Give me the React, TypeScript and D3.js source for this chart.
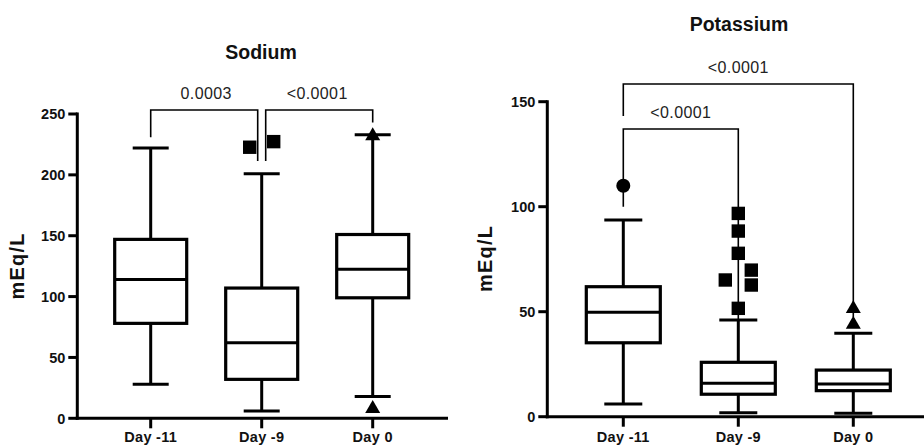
import React, { useRef, useEffect } from 'react';
import * as d3 from 'd3';

// Box plots of electrolytes (Tukey whiskers), one panel per analyte
const categories = ['Day -11', 'Day -9', 'Day 0'];
const markerShapes = ['circle', 'square', 'triangle'];

// [min, q1, median, q3, max]
const sodiumStats = [
  [28, 78, 114, 147, 222],
  [6, 32, 62, 107, 201],
  [18, 99, 122.5, 151, 233],
];
// slot: side-by-side jitter index for outliers with close values
const sodiumOutliers = [
  [],
  [{ value: 222.7, slot: -1 }, { value: 227.3, slot: 1 }],
  [{ value: 232, slot: 0 }, { value: 8, slot: 0 }],
];
const sodiumTicks = [0, 50, 100, 150, 200, 250];
const sodiumBrackets = [
  { from: 0, to: 1, top: 253.3, fromEnd: 231, toEnd: 211.4, label: '0.0003' },
  { from: 1, to: 2, top: 253.3, fromEnd: 211.4, toEnd: 243, label: '<0.0001' },
];

const potassiumStats = [
  [6, 35.2, 49.7, 61.9, 93.7],
  [1.9, 10.7, 15.9, 25.9, 46],
  [1.6, 12.4, 15.6, 22.2, 39.7],
];
const potassiumOutliers = [
  [{ value: 110, slot: 0 }],
  [
    { value: 96.8, slot: 0 },
    { value: 88.4, slot: 0 },
    { value: 77.8, slot: 0 },
    { value: 65.1, slot: -1 },
    { value: 69.8, slot: 1 },
    { value: 62.7, slot: 1 },
    { value: 51.6, slot: 0 },
  ],
  [{ value: 51.5, slot: 0 }, { value: 44, slot: 0 }],
];
const potassiumTicks = [0, 50, 100, 150];
const potassiumBrackets = [
  { from: 0, to: 1, top: 137, fromEnd: 100, toEnd: 46, label: '<0.0001' },
  { from: 0, to: 2, top: 158.4, fromEnd: 143.2, toEnd: 47.5, label: '<0.0001' },
];

const FONT = '"Liberation Sans", Arial, Helvetica, sans-serif';

const drawPanel = (svg, cfg) => {
  const { stats, outliers, ticks, brackets, title, layout } = cfg;
  const g = svg.append('g');

  const x = d3.scalePoint().domain(categories).range([layout.xFirst, layout.xLast]);
  const y = d3.scaleLinear().domain([0, d3.max(ticks)]).range([layout.yBottom, layout.yTop]);

  // Title
  g.append('text')
    .attr('x', layout.titleX)
    .attr('y', layout.titleY)
    .attr('text-anchor', 'middle')
    .attr('font-family', FONT)
    .attr('font-size', '19.5px')
    .attr('font-weight', 'bold')
    .attr('fill', '#111')
    .text(title);

  // Y axis label
  g.append('text')
    .attr('transform', `translate(${layout.yLabelX},${layout.yLabelY}) rotate(-90)`)
    .attr('text-anchor', 'middle')
    .attr('font-family', FONT)
    .attr('font-size', '20px')
    .attr('font-weight', 'bold')
    .attr('letter-spacing', '1.2px')
    .attr('fill', '#111')
    .text('mEq/L');

  // Axes
  g.append('line')
    .attr('x1', layout.axisX).attr('x2', layout.axisX)
    .attr('y1', y(0) + 1.5).attr('y2', y(d3.max(ticks)) - 1.5)
    .attr('stroke', '#000').attr('stroke-width', 3);
  g.append('line')
    .attr('x1', layout.axisX - 1.5).attr('x2', layout.axisEnd)
    .attr('y1', y(0)).attr('y2', y(0))
    .attr('stroke', '#000').attr('stroke-width', 3);

  ticks.forEach(t => {
    g.append('line')
      .attr('x1', layout.axisX - 9).attr('x2', layout.axisX)
      .attr('y1', y(t)).attr('y2', y(t))
      .attr('stroke', '#000').attr('stroke-width', 3);
    g.append('text')
      .attr('x', layout.axisX - 12)
      .attr('y', y(t))
      .attr('dy', '0.36em')
      .attr('text-anchor', 'end')
      .attr('font-family', FONT)
      .attr('font-size', '14.5px')
      .attr('font-weight', 'bold')
      .attr('fill', '#111')
      .text(t);
  });

  categories.forEach(c => {
    g.append('line')
      .attr('x1', x(c)).attr('x2', x(c))
      .attr('y1', y(0)).attr('y2', y(0) + 10)
      .attr('stroke', '#000').attr('stroke-width', 3);
    g.append('text')
      .attr('x', x(c))
      .attr('y', 441.5)
      .attr('text-anchor', 'middle')
      .attr('font-family', FONT)
      .attr('font-size', '14.5px')
      .attr('font-weight', 'bold')
      .attr('letter-spacing', '0.3px')
      .attr('fill', '#111')
      .text(c);
  });

  // Boxes
  stats.forEach((s, i) => {
    const cx = x(categories[i]);
    const [mn, q1, med, q3, mx] = s;
    const bw = layout.boxHalf;
    const cw = layout.capHalf;
    const box = g.append('g').attr('stroke', '#000').attr('stroke-width', 3);

    box.append('line').attr('x1', cx).attr('x2', cx).attr('y1', y(q3)).attr('y2', y(mx));
    box.append('line').attr('x1', cx).attr('x2', cx).attr('y1', y(q1)).attr('y2', y(mn));
    box.append('line').attr('x1', cx - cw).attr('x2', cx + cw).attr('y1', y(mx)).attr('y2', y(mx));
    box.append('line').attr('x1', cx - cw).attr('x2', cx + cw).attr('y1', y(mn)).attr('y2', y(mn));

    box.append('rect')
      .attr('x', cx - bw)
      .attr('y', y(q3))
      .attr('width', bw * 2)
      .attr('height', y(q1) - y(q3))
      .attr('fill', '#fff')
      .attr('stroke-width', 3.2);
    box.append('line').attr('x1', cx - bw).attr('x2', cx + bw).attr('y1', y(med)).attr('y2', y(med));
  });

  // Significance brackets
  brackets.forEach((b, bi) => {
    const shared = (idx) => brackets.some((o, oi) => oi !== bi && (o.from === idx || o.to === idx) && o.top === b.top);
    const x1 = x(categories[b.from]) + (shared(b.from) ? 4 : 0);
    const x2 = x(categories[b.to]) - (shared(b.to) ? 4 : 0);
    g.append('path')
      .attr('d', `M${x1},${y(b.fromEnd)}V${y(b.top)}H${x2}V${y(b.toEnd)}`)
      .attr('fill', 'none')
      .attr('stroke', '#000')
      .attr('stroke-width', 1.6);
    g.append('text')
      .attr('x', (x(categories[b.from]) + x(categories[b.to])) / 2)
      .attr('y', y(b.top) - 11)
      .attr('text-anchor', 'middle')
      .attr('font-family', FONT)
      .attr('font-size', '16px')
      .attr('letter-spacing', '0.4px')
      .attr('fill', '#222')
      .text(b.label);
  });

  // Outliers
  outliers.forEach((list, i) => {
    const shape = markerShapes[i];
    list.forEach(o => {
      const px = x(categories[i]) + o.slot * layout.slotStep;
      const py = y(o.value);
      if (shape === 'circle') {
        g.append('circle').attr('cx', px).attr('cy', py).attr('r', 7).attr('fill', '#000');
      } else if (shape === 'square') {
        g.append('rect').attr('x', px - 6.7).attr('y', py - 6.7).attr('width', 13.4).attr('height', 13.4).attr('fill', '#000');
      } else {
        const w = 15, h = 13;
        g.append('path')
          .attr('d', `M${px},${py - (h * 2) / 3}L${px + w / 2},${py + h / 3}L${px - w / 2},${py + h / 3}Z`)
          .attr('fill', '#000');
      }
    });
  });
};

const App = () => {
  const svgRef = useRef(null);
  const width = 924;
  const height = 446;

  useEffect(() => {
    const svg = d3.select(svgRef.current);
    svg.selectAll('*').remove();

    drawPanel(svg, {
      title: 'Sodium',
      stats: sodiumStats,
      outliers: sodiumOutliers,
      ticks: sodiumTicks,
      brackets: sodiumBrackets,
      layout: {
        axisX: 77.3, axisEnd: 448, yBottom: 418.3, yTop: 114,
        xFirst: 150.7, xLast: 372.7, boxHalf: 36, capHalf: 18, slotStep: 12,
        titleX: 261, titleY: 59, yLabelX: 23.5, yLabelY: 266,
      },
    });

    drawPanel(svg, {
      title: 'Potassium',
      stats: potassiumStats,
      outliers: potassiumOutliers,
      ticks: potassiumTicks,
      brackets: potassiumBrackets,
      layout: {
        axisX: 547.3, axisEnd: 924, yBottom: 416.7, yTop: 101.7,
        xFirst: 623.3, xLast: 853.3, boxHalf: 37, capHalf: 19, slotStep: 13,
        titleX: 739, titleY: 30.5, yLabelX: 492, yLabelY: 258.5,
      },
    });
  }, []);

  return (
    <svg
      ref={svgRef}
      width={width}
      height={height}
      style={{ position: 'absolute', left: 0, top: 0, background: '#fff' }}
    />
  );
};

export default App;
